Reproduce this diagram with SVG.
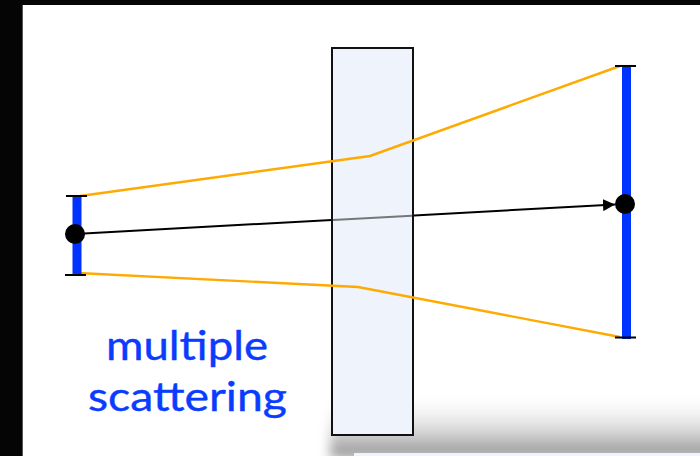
<svg xmlns="http://www.w3.org/2000/svg" width="700" height="456" viewBox="0 0 700 456">
<defs>
<style>
.bar{stroke:#0033ff;stroke-width:9}
.tick{stroke:#000;stroke-width:2}
.dot{fill:#000}
.ray{fill:none;stroke:#ffaa00;stroke-width:2.4}
.lbl{font-family:"Gill Sans","Lato","Liberation Sans",sans-serif;font-size:40px;fill:#0a3cff;stroke:#0a3cff;stroke-width:0.4}
</style>
<linearGradient id="sh" x1="0" y1="0" x2="0" y2="1">
<stop offset="0" stop-color="#ffffff" stop-opacity="0"/>
<stop offset="1" stop-color="#8a8a8a"/>
</linearGradient>
<filter id="blur" x="-0.2" y="-0.5" width="1.4" height="2"><feGaussianBlur stdDeviation="6"/></filter>
<marker id="ah" markerWidth="12" markerHeight="12" refX="12" refY="6" orient="auto" markerUnits="userSpaceOnUse">
<path d="M0,0 L12,6 L0,12 Z" fill="#000"/>
</marker>
</defs>
<rect width="700" height="456" fill="#fff"/>
<g id="shadow">
<rect x="330" y="392" width="385" height="66" fill="url(#sh)" filter="url(#blur)"/>
<rect x="354" y="453" width="346" height="3" fill="#f3f3fb"/>
</g>
<rect x="0" y="0" width="700" height="5" fill="#050505"/>
<rect x="0" y="0" width="22" height="456" fill="#050505"/>
<line x1="22.5" y1="5" x2="22.5" y2="456" stroke="#555" stroke-width="1"/>
<g id="connectors">
<line x1="75" y1="234" x2="615" y2="204.5" stroke="#000" stroke-width="2" marker-end="url(#ah)"/>
</g>
<g id="slab">
<rect x="332" y="48" width="81" height="387" fill="#eef3fc" stroke="#111" stroke-width="2"/>
<line x1="333" y1="220" x2="412" y2="215.7" stroke="#777" stroke-width="2"/>
</g>
<g id="rays">
<polyline class="ray" points="80,196 370,156 620,66"/>
<polyline class="ray" points="78,273 358,287 620,337"/>
</g>
<g id="source">
<line class="bar" x1="77" y1="196" x2="77" y2="274"/>
<line class="tick" x1="66" y1="196" x2="87" y2="196"/>
<line class="tick" x1="65" y1="275" x2="86" y2="275"/>
<circle class="dot" cx="75" cy="234" r="10"/>
</g>
<g id="detector">
<line class="bar" x1="626.5" y1="66" x2="626.5" y2="339"/>
<line class="tick" x1="615" y1="66" x2="636" y2="66"/>
<line class="tick" x1="615" y1="337.5" x2="636" y2="337.5"/>
<circle class="dot" cx="625" cy="204" r="10"/>
</g>
<g id="label">
<text class="lbl" x="106" y="360" textLength="162" lengthAdjust="spacingAndGlyphs">multiple</text>
<text class="lbl" x="88" y="411" textLength="199" lengthAdjust="spacingAndGlyphs">scattering</text>
</g>
</svg>
